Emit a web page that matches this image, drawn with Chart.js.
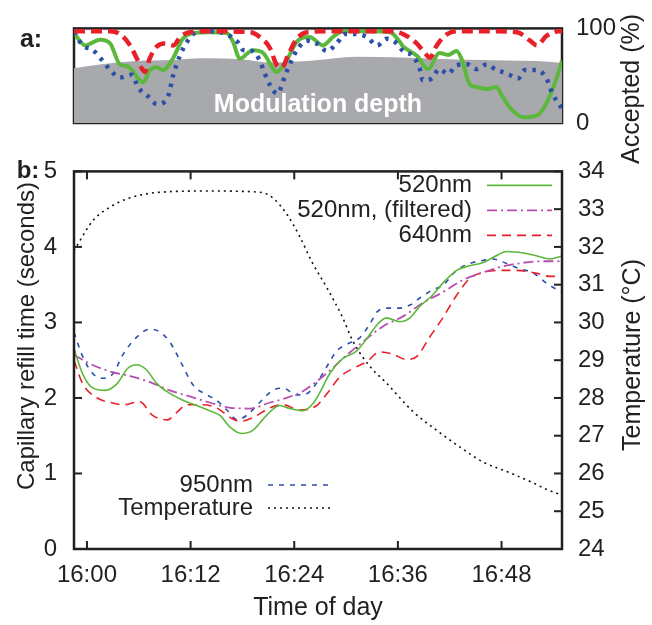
<!DOCTYPE html>
<html>
<head>
<meta charset="utf-8">
<script src="https://cdn.jsdelivr.net/npm/chart.js@4.4.1/dist/chart.umd.min.js"></script>
<style>
  body { margin: 0; background: #fff; }
  #wrap { position: relative; width: 652px; height: 625px; }
  canvas { position: absolute; left: 0; }
  #topChart { top: 0; }
  #mainChart { top: 140px; }
</style>
</head>
<body>
<div id="wrap">
  <canvas id="topChart" width="652" height="170"></canvas>
  <canvas id="mainChart" width="652" height="485"></canvas>
</div>
<script>
// time axis is in minutes after 16:00

// panel a: accepted (%) and modulation depth
const tDepth = [-1.5, 1.9, 5.8, 9.6, 13.4, 17.7, 21.5, 26.2, 31.2, 35.5, 39.0, 42.8, 48.6, 52.0, 55.0];
const depth  = [58, 62.5, 65.5, 66.5, 68.5, 67.5, 64, 66, 70, 69.5, 68.5, 67, 66, 65.5, 63.5];

const tAcc520 = [-1.5, -0.2, 1.5, 2.7, 3.8, 4.7, 6.5, 7.3, 8.1, 8.8, 10.0, 11.1, 12.3, 14.2, 16.2, 16.9, 17.7, 19.2, 20.4, 22.0, 23.1, 24.3, 25.8, 27.3, 28.5, 29.6, 32.7, 35.1, 36.2, 36.6, 38.2, 39.5, 40.8, 41.8, 42.8, 43.4, 44.3, 45.1, 46.3, 47.4, 48.1, 49.3, 50.5, 52.1, 53.2, 54.4, 55.0];
const acc520  = [95, 82, 88, 84, 62, 60, 43, 56, 59, 56, 69, 89, 95, 96, 95, 86, 68, 77, 74, 54, 66, 86, 91, 82, 91, 97, 97, 96, 86, 81, 71, 57, 74, 72, 76, 67, 41, 38, 36, 38, 28, 13, 6, 8, 21, 48, 66];

const tAcc640 = [-1.5, 2.7, 3.8, 5.0, 5.9, 6.7, 7.3, 8.1, 9.0, 10.0, 10.8, 11.9, 14.0, 18.9, 20.0, 21.2, 22.0, 22.6, 23.3, 24.3, 25.5, 28.0, 35.1, 36.6, 38.2, 39.3, 39.7, 40.5, 41.7, 43.2, 46.6, 49.8, 51.3, 52.1, 53.2, 54.7, 55.0];
const acc640  = [97, 97, 94, 82, 66, 54, 69, 81, 84, 82, 91, 96, 97, 96, 91, 79, 61, 59, 72, 89, 96, 97, 97, 94, 84, 72, 69, 82, 94, 97, 97, 96, 87, 82, 92, 97, 97];

const tAcc950 = [-1.5, -0.5, 0.7, 1.7, 2.7, 3.8, 5.2, 5.9, 7.1, 8.1, 9.3, 10.0, 10.8, 11.6, 12.3, 13.4, 15.4, 17.4, 18.1, 19.2, 20.0, 20.6, 21.2, 22.0, 23.1, 24.3, 25.5, 26.6, 27.8, 28.9, 29.9, 31.0, 32.4, 33.6, 34.7, 35.9, 36.6, 37.7, 38.5, 38.9, 39.9, 40.8, 41.8, 42.8, 44.0, 45.1, 46.3, 47.4, 48.1, 48.9, 49.9, 50.7, 52.1, 53.2, 53.9, 54.8, 55.0];
const acc950  = [96, 82, 77, 67, 56, 48, 51, 38, 28, 20, 26, 51, 72, 86, 94, 97, 96, 86, 77, 76, 66, 52, 40, 31, 54, 77, 87, 84, 76, 84, 94, 94, 91, 82, 89, 84, 76, 71, 58, 45, 47, 57, 52, 61, 62, 57, 62, 56, 54, 51, 47, 56, 56, 47, 31, 18, 15];

// panel b: capillary refill time (s) and temperature (C)
const t520 = [-1.5, -0.5, 0.7, 2.1, 3.5, 4.7, 5.8, 6.9, 8.1, 9.6, 11.1, 12.7, 14.2, 15.4, 16.6, 17.9, 19.2, 20.8, 22.3, 23.5, 25.0, 26.2, 27.0, 28.1, 29.6, 31.2, 32.5, 33.6, 34.7, 36.2, 37.4, 38.5, 40.0, 41.2, 42.8, 44.3, 45.8, 47.0, 48.6, 50.5, 52.1, 53.6, 55.0];
const crt520 = [2.65, 2.32, 2.13, 2.10, 2.19, 2.39, 2.44, 2.37, 2.19, 2.06, 1.97, 1.90, 1.83, 1.77, 1.61, 1.53, 1.57, 1.77, 1.90, 1.86, 1.83, 1.93, 2.08, 2.32, 2.52, 2.62, 2.80, 2.97, 3.06, 3.01, 3.06, 3.21, 3.36, 3.52, 3.69, 3.75, 3.79, 3.86, 3.94, 3.92, 3.88, 3.84, 3.88];

const t520f = [-1.5, 0.4, 2.7, 5.0, 7.3, 9.6, 11.9, 14.2, 16.6, 18.9, 21.2, 23.1, 25.0, 26.6, 28.1, 29.6, 31.9, 34.3, 36.6, 38.9, 41.2, 43.5, 45.8, 48.1, 50.5, 52.8, 55.0];
const crt520f = [2.57, 2.45, 2.35, 2.29, 2.21, 2.10, 2.02, 1.94, 1.87, 1.86, 1.94, 2.00, 2.09, 2.22, 2.36, 2.52, 2.74, 2.95, 3.08, 3.26, 3.40, 3.56, 3.66, 3.74, 3.79, 3.81, 3.81];

const t640 = [-1.5, -0.5, 1.2, 2.7, 4.2, 6.1, 7.6, 9.3, 10.4, 11.6, 13.4, 15.0, 16.6, 17.7, 19.2, 21.2, 22.7, 24.6, 26.6, 27.8, 29.3, 30.8, 32.4, 33.9, 35.4, 37.0, 38.2, 39.7, 41.2, 42.8, 44.3, 45.8, 47.8, 49.8, 52.1, 53.6, 55.0];
const crt640 = [2.50, 2.19, 2.00, 1.94, 1.91, 1.95, 1.77, 1.71, 1.81, 1.91, 1.91, 1.87, 1.74, 1.69, 1.74, 1.87, 1.91, 1.84, 1.90, 2.06, 2.28, 2.39, 2.48, 2.61, 2.58, 2.51, 2.55, 2.81, 3.06, 3.36, 3.58, 3.66, 3.69, 3.69, 3.65, 3.61, 3.61];

const t950 = [-1.5, -0.5, 0.7, 1.9, 3.0, 4.2, 5.8, 7.3, 8.5, 9.6, 10.8, 12.3, 13.9, 15.0, 16.2, 17.4, 18.5, 20.0, 21.5, 22.7, 24.3, 25.5, 26.6, 27.8, 28.9, 30.1, 31.6, 32.7, 33.6, 34.7, 36.2, 37.4, 38.5, 40.0, 41.2, 42.8, 44.3, 45.8, 47.0, 48.6, 50.1, 51.6, 53.2, 54.5, 55.0];
const crt950 = [2.87, 2.55, 2.32, 2.26, 2.32, 2.58, 2.81, 2.91, 2.87, 2.74, 2.49, 2.17, 2.04, 1.97, 1.84, 1.71, 1.77, 1.94, 2.10, 2.13, 2.04, 2.06, 2.20, 2.42, 2.62, 2.71, 2.80, 2.97, 3.14, 3.19, 3.19, 3.23, 3.32, 3.43, 3.49, 3.69, 3.78, 3.82, 3.84, 3.78, 3.71, 3.66, 3.52, 3.43, 3.40];

const tTemp = [-1.5, 0.7, 2.7, 4.6, 8.5, 14.2, 20.0, 21.5, 23.1, 24.6, 26.1, 27.8, 29.6, 30.8, 32.7, 34.7, 37.7, 40.8, 43.5, 45.8, 48.6, 51.3, 53.2, 55.0];
const temp  = [31.9, 32.7, 33.06, 33.27, 33.45, 33.48, 33.45, 33.3, 32.88, 32.29, 31.58, 30.91, 30.13, 29.5, 28.85, 28.39, 27.65, 27.09, 26.65, 26.31, 26.05, 25.79, 25.58, 25.43];

const timeTicks = [0, 12, 24, 36, 48];

const TXT = '#231f20';
const GREEN = '#5cb83c';
const PURPLE = '#b84fb0';
const RED = '#e8202a';
const BLUE = '#2c4fa8';
const FONT = '"Liberation Sans", Arial, Helvetica, sans-serif';

Chart.defaults.font.family = FONT;
Chart.defaults.font.size = 24;
Chart.defaults.color = TXT;

const pts = (ts, vs) => ts.map((t, i) => ({ x: t, y: vs[i] }));

function line(ctx, x1, y1, x2, y2) {
    ctx.beginPath(); ctx.moveTo(x1, y1); ctx.lineTo(x2, y2); ctx.stroke();
}

function vText(ctx, txt, x, y) {
    ctx.save();
    ctx.translate(x, y);
    ctx.rotate(-Math.PI / 2);
    ctx.fillText(txt, 0, 0);
    ctx.restore();
}

// panel a decorations
const topDeco = {
    id: 'topDeco',
    beforeDatasetsDraw(chart) {
        const { ctx, chartArea: a } = chart;
        ctx.save();
        ctx.strokeStyle = '#222';
        ctx.lineWidth = 2.5;
        ctx.strokeRect(a.left, a.top, a.right - a.left, a.bottom - a.top);
        ctx.restore();
    },
    afterDatasetsDraw(chart) {
        const { ctx, chartArea: a } = chart;
        ctx.save();
        ctx.textAlign = 'center';
        ctx.textBaseline = 'middle';
        ctx.fillStyle = '#fff';
        ctx.font = 'bold 25px ' + FONT;
        ctx.fillText('Modulation depth', (a.left + a.right) / 2, a.bottom - 18);
        ctx.fillStyle = TXT;
        ctx.fillText('a:', 31, 40);
        ctx.font = '25px ' + FONT;
        vText(ctx, 'Accepted (%)', 632, 89);
        ctx.restore();
    }
};

// panel b decorations: inward ticks, frame, legends, titles
const mainDeco = {
    id: 'mainDeco',
    afterDatasetsDraw(chart) {
        const { ctx, chartArea: a, scales } = chart;
        const T = 8;
        ctx.save();
        ctx.strokeStyle = TXT;
        ctx.lineWidth = 2;
        scales.x.ticks.forEach(t => {
            const px = scales.x.getPixelForValue(t.value);
            line(ctx, px, a.bottom, px, a.bottom - T);
            line(ctx, px, a.top, px, a.top + T);
        });
        scales.y.ticks.forEach(t => {
            const py = scales.y.getPixelForValue(t.value);
            line(ctx, a.left, py, a.left + T, py);
        });
        scales.y2.ticks.forEach(t => {
            const py = scales.y2.getPixelForValue(t.value);
            line(ctx, a.right, py, a.right - T, py);
        });
        ctx.lineWidth = 2.5;
        ctx.strokeRect(a.left, a.top, a.right - a.left, a.bottom - a.top);

        // legends
        const ds = chart.data.datasets;
        const upper = [0, 1, 2], lower = [3, 4];
        ctx.font = '24px ' + FONT;
        ctx.textAlign = 'right';
        ctx.textBaseline = 'middle';
        const drawEntry = (d, xr, y) => {
            ctx.fillStyle = TXT;
            ctx.fillText(d.label, xr, y);
            ctx.save();
            ctx.strokeStyle = d.borderColor;
            ctx.lineWidth = d.borderWidth;
            ctx.setLineDash(d.borderDash || []);
            line(ctx, xr + 15, y, xr + 80, y);
            ctx.restore();
        };
        upper.forEach((i, k) => drawEntry(ds[i], a.right - 90, a.top + 14 + k * 25));
        lower.forEach((i, k) => drawEntry(ds[i], a.left + 179, a.bottom - 64 + k * 23));

        // titles
        ctx.textAlign = 'center';
        ctx.fillStyle = TXT;
        ctx.font = '25px ' + FONT;
        ctx.fillText('Time of day', (a.left + a.right) / 2, 468);
        vText(ctx, 'Temperature (\u00B0C)', 633, 215);
        ctx.font = '24px ' + FONT;
        vText(ctx, 'Capillary refill time (seconds)', 27, 196);
        ctx.font = 'bold 24px ' + FONT;
        ctx.fillText('b:', 28, 31);
        ctx.restore();
    }
};

const smooth = { pointRadius: 0, cubicInterpolationMode: 'monotone', fill: false };

new Chart(document.getElementById('topChart'), {
    type: 'line',
    data: {
        datasets: [
            { label: 'Modulation depth', data: pts(tDepth, depth), ...smooth, fill: 'origin',
              backgroundColor: '#a8a9ad', borderWidth: 0, order: 4 },
            { label: '520nm', data: pts(tAcc520, acc520), ...smooth, borderColor: GREEN, borderWidth: 4, order: 3 },
            { label: '950nm', data: pts(tAcc950, acc950), ...smooth, borderColor: BLUE, borderWidth: 4.5,
              borderDash: [3.5, 6], order: 2 },
            { label: '640nm', data: pts(tAcc640, acc640), ...smooth, borderColor: RED, borderWidth: 4.5,
              borderDash: [11, 6], order: 1 }
        ]
    },
    options: {
        responsive: false,
        devicePixelRatio: 1,
        animation: false,
        layout: { padding: { left: 74, right: 0, top: 24, bottom: 47 } },
        plugins: { legend: { display: false }, tooltip: { enabled: false } },
        scales: {
            x: { type: 'linear', min: -1.5, max: 55, display: false },
            y: {
                position: 'right', min: 0, max: 100,
                ticks: { stepSize: 100, padding: 14 },
                grid: { display: false, drawTicks: false },
                border: { display: false },
                afterFit: s => { s.width = 90; }
            }
        }
    },
    plugins: [topDeco]
});

new Chart(document.getElementById('mainChart'), {
    type: 'line',
    data: {
        datasets: [
            { label: '520nm', data: pts(t520, crt520), ...smooth, borderColor: GREEN, borderWidth: 1.6, yAxisID: 'y', order: 1 },
            { label: '520nm, (filtered)', data: pts(t520f, crt520f), ...smooth, borderColor: PURPLE, borderWidth: 1.8,
              borderDash: [10, 4, 2, 4], yAxisID: 'y', order: 2 },
            { label: '640nm', data: pts(t640, crt640), ...smooth, borderColor: RED, borderWidth: 1.6,
              borderDash: [9, 6], yAxisID: 'y', order: 3 },
            { label: '950nm', data: pts(t950, crt950), ...smooth, borderColor: BLUE, borderWidth: 1.6,
              borderDash: [5, 6], yAxisID: 'y', order: 4 },
            { label: 'Temperature', data: pts(tTemp, temp), ...smooth, borderColor: '#111', borderWidth: 1.6,
              borderDash: [2, 4], yAxisID: 'y2', order: 5 }
        ]
    },
    options: {
        responsive: false,
        devicePixelRatio: 1,
        animation: false,
        layout: { padding: { left: 0, right: 0, top: 24, bottom: 0 } },
        plugins: { legend: { display: false }, tooltip: { enabled: false } },
        scales: {
            x: {
                type: 'linear', min: -1.5, max: 55,
                afterBuildTicks: s => { s.ticks = timeTicks.map(v => ({ value: v })); },
                ticks: { padding: 12, maxRotation: 0, autoSkip: false,
                         callback: v => '16:' + String(v).padStart(2, '0') },
                grid: { display: false, drawTicks: false },
                border: { display: false },
                afterFit: s => { s.height = 76; }
            },
            y: {
                position: 'left', min: 0, max: 5,
                ticks: { stepSize: 1, padding: 17 },
                grid: { display: false, drawTicks: false },
                border: { display: false },
                afterFit: s => { s.width = 74; }
            },
            y2: {
                position: 'right', min: 24, max: 34,
                ticks: { stepSize: 1, padding: 16 },
                grid: { display: false, drawTicks: false },
                border: { display: false },
                afterFit: s => { s.width = 90; }
            }
        }
    },
    plugins: [mainDeco]
});
</script>
</body>
</html>
